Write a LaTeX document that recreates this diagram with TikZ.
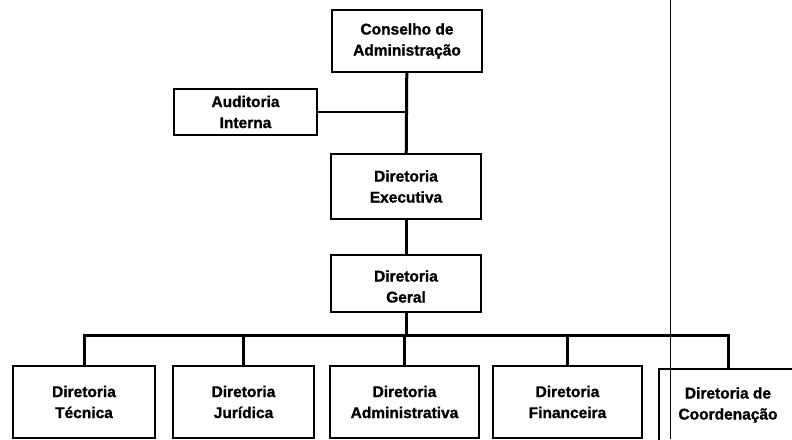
\documentclass[tikz,border=0pt]{standalone}
\usepackage{fontspec}
\setmainfont{Liberation Sans}[BoldFeatures={FakeBold=1.2}]

\begin{document}
\begin{tikzpicture}[x=1pt,y=-1pt,
    box/.style={draw,line width=1.6pt,align=center,inner sep=0pt,
        font=\bfseries\fontsize{15.5}{21}\selectfont},
    link/.style={line width=3pt}]
    \useasboundingbox (0,0) rectangle (792,439);
    \clip (0,0) rectangle (792,439);

    % Upper levels
    \node[box,minimum width=150pt,minimum height=62pt] (cons) at (407,41) {Conselho de\\Administração};
    \node[box,minimum width=143pt,minimum height=46pt] (aud) at (245.5,112) {Auditoria\\Interna};
    \node[box,minimum width=150pt,minimum height=65pt] (exe) at (406,186.5) {Diretoria\\Executiva};
    \node[box,minimum width=150pt,minimum height=57pt,text height=40pt,text depth=2pt] (ger) at (406,283.5) {Diretoria\\Geral};

    % Directorates
    \node[box,minimum width=142pt,minimum height=72pt] (tec) at (84,402) {Diretoria\\Técnica};
    \node[box,minimum width=141pt,minimum height=72pt] (jur) at (243.5,402) {Diretoria\\Jurídica};
    \node[box,minimum width=149pt,minimum height=72pt] (adm) at (404.5,402) {Diretoria\\Administrativa};
    \node[box,minimum width=149pt,minimum height=72pt] (fin) at (567.5,402) {Diretoria\\Financeira};
    \node[box,minimum width=138pt,minimum height=72pt] (coo) at (728,405) {Diretoria de\\Coordenação};

    % Connections
    \draw[link] (cons) -- (exe);
    \draw[line width=2.2pt] (aud.east) -- (aud.east -| cons.south);
    \draw[link] (exe) -- (ger);
    \coordinate (bus) at (0,335);
    \draw[link] (ger) -- (ger |- bus);
    \draw[link] (tec.north) -- (tec.north |- bus) -- (coo.north |- bus) -- (coo.north);
    \foreach \n in {jur,adm,fin}
        \draw[link] (\n.north) -- (\n.north |- bus);

    % page edge
    \draw[line width=0.8pt] (670,0) -- (670,439);
\end{tikzpicture}
\end{document}
